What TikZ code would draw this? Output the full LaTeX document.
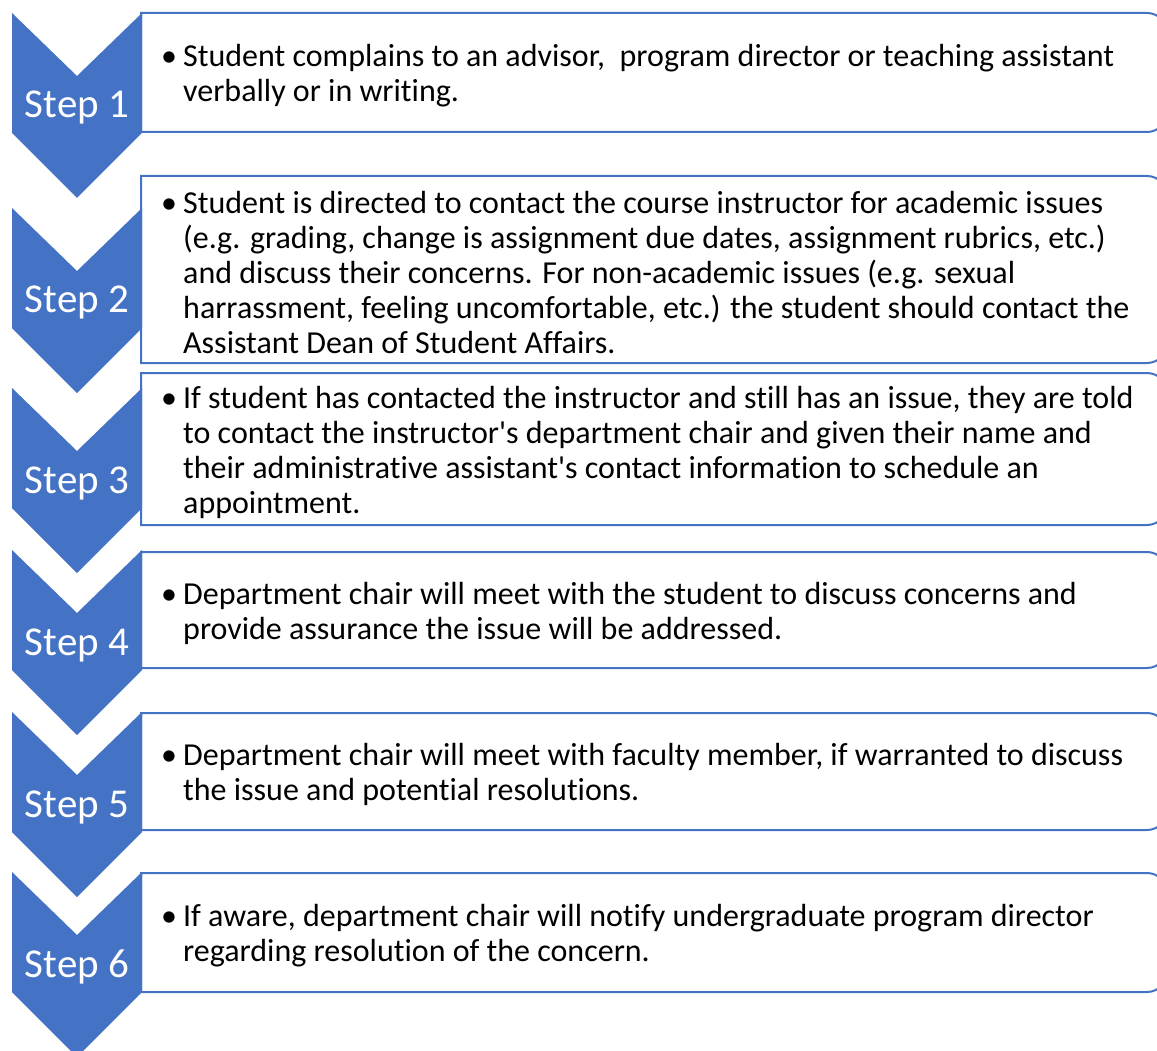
\documentclass[tikz,border=0pt]{standalone}
\usepackage{fontspec}
\setmainfont{Carlito}[Ligatures=CommonOff]
\definecolor{stepblue}{HTML}{4472C4}
\newcommand{\itemdot}{\makebox[22pt][l]{\textbullet}}
\newcommand{\itemgap}{\makebox[22pt]{}}

\begin{document}
\begin{tikzpicture}[x=1pt, y=-1pt,
    boxline/.style={draw=stepblue, line width=2pt, fill=white},
    steplabel/.style={text=white, font=\fontsize{41}{41}\selectfont, inner sep=0pt},
    steptext/.style={anchor=west, align=left, inner sep=0pt, font=\fontsize{32}{35}\selectfont}]
    \useasboundingbox (0,0) rectangle (1157,1051);

    % text boxes, right corners rounded
    \foreach \t/\b in {13/132, 176/363, 373/525, 552/668, 713/830, 873/992}
        \draw[boxline] (141,\t) -- (1147,\t) arc[start angle=-90, end angle=0, radius=20]
            -- (1167,\b-20) arc[start angle=0, end angle=90, radius=20] -- (141,\b) -- cycle;

    % chevrons
    \foreach \n/\t in {1/13, 2/208, 3/388, 4/550, 5/712, 6/872} {
        \fill[stepblue] (12,\t) -- (77,\t+63) -- (142,\t) -- (142,\t+120)
            -- (77,\t+185) -- (12,\t+120) -- cycle;
        \node[steplabel] (s\n) at (77,\t+95) {Step \n};
    }

    \node[steptext] (t1) at (161,76) {\itemdot Student complains to an advisor,~ program director or teaching assistant\\
        \itemgap verbally or in writing.};
    \node[steptext] (t2) at (161,272.5) {\itemdot Student is directed to contact the course instructor for academic issues\\
        \itemgap (e.g. grading, change is assignment due dates, assignment rubrics, etc.)\\
        \itemgap and discuss their concerns. For non-academic issues (e.g. sexual\\
        \itemgap harrassment, feeling uncomfortable, etc.) the student should contact the\\
        \itemgap Assistant Dean of Student Affairs.};
    \node[steptext] (t3) at (161,452) {\itemdot If student has contacted the instructor and still has an issue, they are told\\
        \itemgap to contact the instructor\textquotesingle s department chair and given their name and\\
        \itemgap their administrative assistant\textquotesingle s contact information to schedule an\\
        \itemgap appointment.};
    \node[steptext] (t4) at (161,613) {\itemdot Department chair will meet with the student to discuss concerns and\\
        \itemgap provide assurance the issue will be addressed.};
    \node[steptext] (t5) at (161,774.5) {\itemdot Department chair will meet with faculty member, if warranted to discuss\\
        \itemgap the issue and potential resolutions.};
    \node[steptext] (t6) at (161,935.5) {\itemdot If aware, department chair will notify undergraduate program director\\
        \itemgap regarding resolution of the concern.};
\end{tikzpicture}
\end{document}
